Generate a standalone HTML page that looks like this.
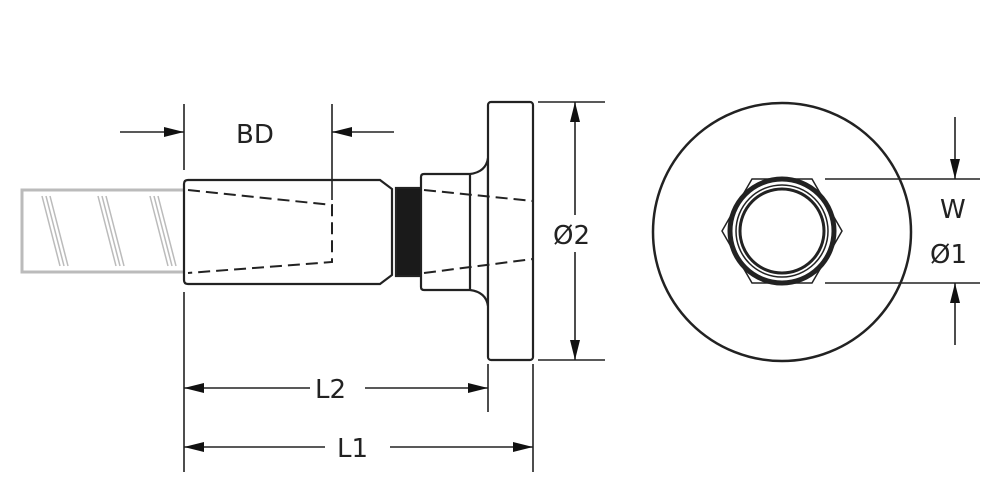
<!DOCTYPE html>
<html><head><style>body{margin:0;background:#fff}svg{display:block}text{font-family:"DejaVu Sans","Liberation Sans",sans-serif;fill:#222}</style></head>
<body>
<svg width="1000" height="500" viewBox="0 0 1000 500" xmlns="http://www.w3.org/2000/svg">
<defs>
<marker id="a" markerWidth="20" markerHeight="10" refX="20" refY="5" orient="auto" markerUnits="userSpaceOnUse"><path d="M0,0 L20,5 L0,10z" fill="#111"/></marker>
</defs>
<!-- rebar -->
<g stroke="#bbb" fill="none">
<rect x="22" y="190" width="163" height="82" stroke-width="3" fill="#fff"/>
<g stroke-width="1.5">
<path d="M42,196 L60,266 M46,196 L64,266 M50,196 L68,266"/>
<path d="M98,196 L116,266 M102,196 L120,266 M106,196 L124,266"/>
<path d="M150,196 L168,266 M154,196 L172,266 M158,196 L176,266"/>
</g>
</g>
<g stroke="#222" stroke-width="2.2" fill="#fff">
<path d="M188,180 L380,180 L392,189 L392,275 L380,284 L188,284 Q184,284 184,280 L184,184 Q184,180 188,180z"/>
<rect x="396" y="188" width="28" height="88" fill="#1a1a1a"/>
<path d="M424,174 L470,174 Q486,172 488,158 L488,306 Q486,292 470,290 L424,290 Q421,290 421,287 L421,177 Q421,174 424,174z"/>
<line x1="470" y1="174" x2="470" y2="290"/>
<rect x="488" y="102" width="45" height="258" rx="3"/>
</g>
<g stroke="#222" stroke-width="2" fill="none" stroke-dasharray="12,6">
<path d="M188,190 L332,205 L332,262 L188,273"/>
<path d="M424,190 L533,201 M424,273 L533,259"/>
</g>
<g stroke="#222" stroke-width="1.6" fill="none">
<line x1="184" y1="104" x2="184" y2="170"/>
<line x1="332" y1="104" x2="332" y2="200"/>
<line x1="120" y1="132" x2="184" y2="132" marker-end="url(#a)"/>
<line x1="394" y1="132" x2="332" y2="132" marker-end="url(#a)"/>
<line x1="538" y1="102" x2="605" y2="102"/>
<line x1="538" y1="360" x2="605" y2="360"/>
<line x1="575" y1="215" x2="575" y2="102" marker-end="url(#a)"/>
<line x1="575" y1="252" x2="575" y2="360" marker-end="url(#a)"/>
<line x1="184" y1="292" x2="184" y2="472"/>
<line x1="488" y1="364" x2="488" y2="412"/>
<line x1="533" y1="364" x2="533" y2="472"/>
<line x1="310" y1="388" x2="184" y2="388" marker-end="url(#a)"/>
<line x1="365" y1="388" x2="488" y2="388" marker-end="url(#a)"/>
<line x1="325" y1="447" x2="184" y2="447" marker-end="url(#a)"/>
<line x1="390" y1="447" x2="533" y2="447" marker-end="url(#a)"/>
<line x1="825" y1="179" x2="980" y2="179"/>
<line x1="825" y1="283" x2="980" y2="283"/>
<line x1="955" y1="117" x2="955" y2="179" marker-end="url(#a)"/>
<line x1="955" y1="345" x2="955" y2="283" marker-end="url(#a)"/>
</g>
<g stroke="#222" fill="none">
<circle cx="782" cy="232" r="129" stroke-width="2.5"/>
<polygon points="752,179 812,179 842,231 812,283 752,283 722,231" stroke-width="1.5" fill="#fff"/>
<circle cx="782" cy="231" r="52" stroke-width="5"/>
<circle cx="782" cy="231" r="46" stroke-width="1.5"/>
<circle cx="782" cy="231" r="42" stroke-width="3"/>
</g>
<g font-size="26">
<text x="236" y="143">BD</text>
<text x="553" y="244">Ø2</text>
<text x="315" y="398">L2</text>
<text x="337" y="457">L1</text>
<text x="940" y="218">W</text>
<text x="930" y="263">Ø1</text>
</g>
</svg>
</body></html>
